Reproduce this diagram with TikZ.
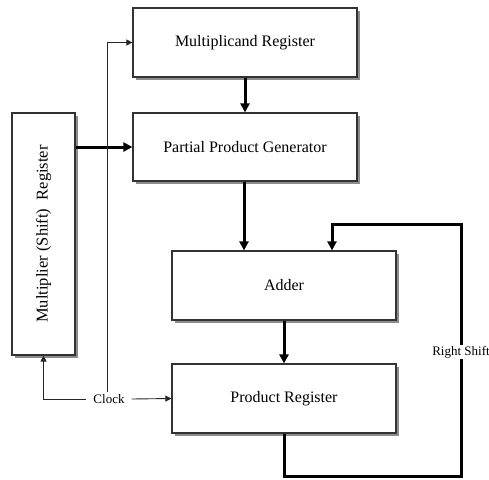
\documentclass[tikz,border=0pt]{standalone}
\usepackage{fontspec}
\setmainfont{Liberation Serif}
\usetikzlibrary{arrows.meta,shadows}
\begin{document}
\begin{tikzpicture}[x=1pt,y=-1pt,
  reg/.style={draw=black!80, line width=1.2pt, fill=white, rectangle, inner sep=0pt,
    drop shadow={shadow xshift=2.5pt, shadow yshift=-2.5pt, fill=black!45, opacity=1},
    font=\fontsize{16}{18}\selectfont},
  thickarrow/.style={line width=3pt, -{Triangle[length=9pt,width=9pt]}},
  thickline/.style={line width=3pt},
  thinarrow/.style={line width=0.9pt, draw=black!85, -{Triangle[length=6pt,width=6pt]}},
  lbl/.style={font=\fontsize{13}{15}\selectfont, inner ysep=2pt}
]
\useasboundingbox (0,0) rectangle (489,479);
\node[reg, minimum width=224pt, minimum height=69pt] (mcand) at (245,42.5) {Multiplicand Register};
\node[reg, minimum width=224pt, minimum height=68pt] (ppg) at (245,147) {Partial Product Generator};
\node[reg, minimum width=63pt, minimum height=242pt] (mult) at (43.5,234) {};
\node[rotate=90, font=\fontsize{16.5}{18}\selectfont] (multlbl) at (mult.center) {Multiplier (Shift)\ \ Register};
\node[reg, minimum width=224pt, minimum height=69pt] (adder) at (284,285.5) {Adder};
\node[reg, minimum width=224pt, minimum height=69pt] (prod) at (284,398.5) {Product Register};
\node[lbl, inner xsep=7pt] (clock) at (109,399) {Clock};
\node[lbl, inner sep=1pt] (rs) at (461,352) {Right Shift};
\coordinate (looptop) at (461,224);
\coordinate (loopbot) at (461,476);
\coordinate (adin) at (332,224);

\draw[thickarrow] (mcand.south) -- (ppg.north);
\draw[thickarrow] (mult.east |- ppg.west) -- (ppg.west);
\draw[thickarrow] ([xshift=-1pt]ppg.south) -- ([xshift=-1pt]ppg.south |- adder.north);
\draw[thickarrow] (adder.south) -- (prod.north);

\draw[thickline] (prod.south) -- (prod.south |- loopbot) -- (loopbot) -- (rs.south);
\draw[thickarrow] (rs.north) -- (looptop) -- (adin) -- (adin |- adder.north);

\draw[thinarrow] ([xshift=-2pt]clock.north) |- (mcand.west);
\draw[thinarrow] (clock.west) -| (mult.south);
\draw[thinarrow] (clock.east) -- (prod.west);
\end{tikzpicture}
\end{document}
